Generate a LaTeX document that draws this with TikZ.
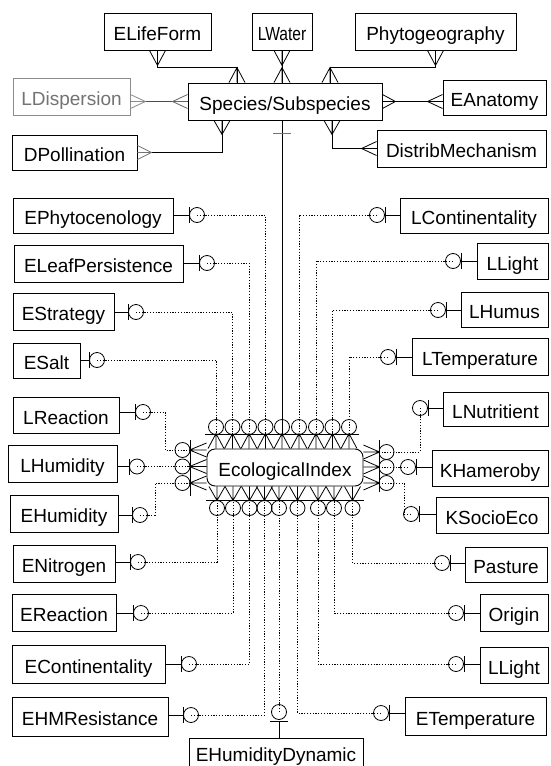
\documentclass[tikz,border=0pt]{standalone}
\usepackage{fontspec}
\setmainfont{Liberation Sans}
\usetikzlibrary{calc}
\tikzset{
  ent/.style={draw, line width=0.9pt, inner sep=0pt, text height=18.6pt, text depth=0pt,
    font=\fontsize{19}{22}\selectfont},
  ring/.style={circle, draw, line width=0.8pt, minimum size=15pt, inner sep=0pt},
  rel/.style={line width=0.8pt},
  opt/.style={line width=0.9pt, dash pattern=on 1.2pt off 1.6pt},
  faint/.style={draw=black!45, text=black!55},
}
% entity box: name, x1, x2, y1, y2, label
\newcommand\ent[7][]{\node[ent,#1, minimum width={#4-#3}, minimum height={#6-#5}] (#2) at ({(#3+#4)/2},{(#5+#6)/2}) {#7};}
% crow's foot: point on the edge, apex offset, prong offset
\newcommand\foot[4][]{\draw[rel,#1] ($(#2)+(#4)$) -- ($(#2)+(#3)$) -- ($(#2)-(#4)$) ($(#2)+(#3)$) -- (#2);}
% optional end with bar, ring on the east side of a box
\newcommand\ringE[3]{%
  \node[ring] (#1-o) at (#2,#3) {};
  \draw[rel] (#1.east |- #1-o.center) -- ([xshift=-8pt]#1-o.center)
    ([xshift=-8pt,yshift=8pt]#1-o.center) -- ([xshift=-8pt,yshift=-8pt]#1-o.center);}
% optional end with bar, ring on the west side of a box
\newcommand\ringW[3]{%
  \node[ring] (#1-o) at (#2,#3) {};
  \draw[rel] (#1.west |- #1-o.center) -- ([xshift=8pt]#1-o.center)
    ([xshift=8pt,yshift=8pt]#1-o.center) -- ([xshift=8pt,yshift=-8pt]#1-o.center);}
% many-ends around the index box
\newcommand\topcol[2]{\node[ring] (#1) at (#2,427) {}; \coordinate (#1-b) at (#2,434); \foot{ecol.north -| #1-b}{0,-15}{8,0}}
\newcommand\botcol[2]{\node[ring] (#1) at (#2,508) {}; \coordinate (#1-b) at (#2,500); \foot{ecol.south -| #1-b}{0,14}{8,0}}
\newcommand\leftrow[2]{\node[ring] (#1) at (182.5,#2) {}; \coordinate (#1-b) at (190,#2); \foot{ecol.west |- #1-b}{-17,0}{0,7}}
\newcommand\rightrow[2]{\node[ring] (#1) at (386.5,#2) {}; \coordinate (#1-b) at (379,#2); \foot{ecol.east |- #1-b}{16,0}{0,7}}

\begin{document}
\begin{tikzpicture}[x=1pt,y=-1pt]
\fill[white] (0,0) rectangle (550,766);
\useasboundingbox (0,0) rectangle (550,766);

% ---- species block ----
\ent{spec}{188}{382}{83}{120}{Species/Subspecies}
\ent{elf}{104}{211}{13}{50}{ELifeForm}
\ent{lwat}{252}{312}{13}{50}{\scalebox{0.82}[1]{LWater}}
\ent{phy}{355}{516}{13}{50}{Phytogeography}
\ent[faint]{ldis}{13}{130}{78}{115}{LDispersion}
\ent{dpol}{12}{137}{135}{170}{DPollination}
\ent{eana}{443}{546}{80}{115}{EAnatomy}
\ent{dm}{377}{546}{130}{167}{DistribMechanism}

\coordinate (sp-lf) at ([xshift=-48pt]spec.north);
\coordinate (sp-lw) at ([xshift=-3pt]spec.north);
\coordinate (sp-ph) at ([xshift=45pt]spec.north);
\coordinate (sp-dp) at ([xshift=-63pt]spec.south);
\coordinate (sp-dm) at ([xshift=47pt]spec.south);
\coordinate (sp-ei) at ([xshift=-3pt]spec.south);

\draw[rel] (elf.south) -- ++(0,17) -| (sp-lf);
\foot{elf.south}{0,15}{8,0}
\foot{sp-lf}{0,-15}{8,0}
\draw[rel] (lwat.south) -- (sp-lw);
\foot{lwat.south}{0,15}{8,0}
\foot{sp-lw}{0,-15}{8,0}
\draw[rel] (phy.south) -- ++(0,17) -| (sp-ph);
\foot{phy.south}{0,15}{8,0}
\foot{sp-ph}{0,-15}{8,0}

\draw[rel, black!70] (ldis.east |- spec.west) -- (spec.west);
\foot[black!45]{ldis.east |- spec.west}{15,0}{0,7}
\foot[black!60]{spec.west}{-15,0}{0,7}
\draw[rel] (spec.east) -- (eana.west |- spec.east);
\foot{spec.east}{13,0}{0,7}
\foot{eana.west |- spec.east}{-15,0}{0,7}

\draw[rel] (dpol.east) -| (sp-dp);
\foot[black!55]{dpol.east}{14,0}{0,7}
\foot{sp-dp}{0,14}{8,0}
\draw[rel] (dm.west) -| (sp-dm);
\foot{dm.west}{-15,0}{0,7}
\foot{sp-dm}{0,14}{8,0}

% ---- index block ----
\node[ent, rounded corners=8pt, minimum width=156, minimum height=37] (ecol) at (285,467.5) {EcologicalIndex};

\topcol{t1}{216}   \topcol{t2}{232.5} \topcol{t3}{249}   \topcol{t4}{265.5} \topcol{t5}{282}
\topcol{t6}{299}   \topcol{t7}{316}   \topcol{t8}{332.5} \topcol{t9}{349}
\botcol{b1}{217}   \botcol{b2}{233}   \botcol{b3}{249.5} \botcol{b4}{264.5} \botcol{b5}{279}
\botcol{b6}{297.5} \botcol{b7}{318}   \botcol{b8}{334}   \botcol{b9}{352.5}
\leftrow{l1}{450}  \leftrow{l2}{466.5} \leftrow{l3}{483}
\rightrow{r1}{452} \rightrow{r2}{467}  \rightrow{r3}{483}

\draw[rel] ([xshift=-11pt]t1-b) -- ([xshift=10pt]t9-b);
\draw[rel] ([xshift=-11pt]b1-b) -- ([xshift=11pt]b9-b);
\draw[rel] ([yshift=10pt]l1-b) -- ([yshift=-13pt]l3-b);
\draw[rel] ([yshift=12pt]r1-b) -- ([yshift=-9pt]r3-b);

% species to index
\draw[rel] (sp-ei) -- (t5-b);
\draw[rel, black!55] ([xshift=-9pt,yshift=-13pt]sp-ei) -- ([xshift=9pt,yshift=-13pt]sp-ei);

% ---- left attributes ----
\ent{ephy}{13}{173}{198}{233}{EPhytocenology}
\ent{elea}{14}{183}{245}{282}{ELeafPersistence}
\ent{estr}{13}{114}{293}{330}{EStrategy}
\ent{esal}{13}{80}{343}{378}{ESalt}
\ent{lrea}{13}{119}{397}{433}{LReaction}
\ent{lhum}{8}{117}{445}{482}{LHumidity}
\ent{ehum}{10}{118}{495}{532}{EHumidity}
\ent{enit}{13}{115}{545}{582}{ENitrogen}
\ent{erea}{12}{116}{594}{631}{EReaction}
\ent{econ}{12}{165}{645}{683}{EContinentality}
\ent{ehmr}{12}{168}{697}{736}{EHMResistance}
\ent[text height=13.6pt]{ehd}{189}{363}{738}{772}{EHumidityDynamic}

\ringE{ephy}{197}{215}
\ringE{elea}{207}{263}
\ringE{estr}{136}{312}
\ringE{esal}{97}{360}
\ringE{lrea}{143}{412}
\ringE{lhum}{137}{466.5}
\ringE{ehum}{140}{515}
\ringE{enit}{138}{562}
\ringE{erea}{141}{613}
\ringE{econ}{189}{664}
\ringE{ehmr}{191}{715}
\node[ring] (ehd-o) at (279,712) {};
\draw[rel] ([yshift=-9pt]ehd-o.center) -- (ehd.north -| ehd-o.center)
  ([xshift=-9pt,yshift=-9pt]ehd-o.center) -- ([xshift=9pt,yshift=-9pt]ehd-o.center);

\draw[opt] (ephy-o.center) -| (t4-b);
\draw[opt] (elea-o.center) -| (t3-b);
\draw[opt] (estr-o.center) -| (t2-b);
\draw[opt] (esal-o.center) -| (t1-b);
\draw[opt] (lrea-o.center) -| ([xshift=-25pt]l1-b) -- (l1-b);
\draw[opt] (lhum-o.center) -- (l2-b);
\draw[opt] (ehum-o.center) -| ([xshift=-35pt]l3-b) -- (l3-b);
\draw[opt] (enit-o.center) -| (b1-b);
\draw[opt] (erea-o.center) -| (b2-b);
\draw[opt] (econ-o.center) -| (b3-b);
\draw[opt] (ehmr-o.center) -| (b4-b);
\draw[opt] (ehd-o.center) -- (b5-b);

% ---- right attributes ----
\ent{lcon}{400}{548}{198}{233}{LContinentality}
\ent{llig}{477}{548}{243}{279}{LLight}
\ent{lhus}{461}{548}{292}{327}{LHumus}
\ent{ltem}{412}{548}{338}{375}{LTemperature}
\ent{lnut}{443}{548}{392}{426}{LNutritient}
\ent{kham}{432}{548}{450}{486}{KHameroby}
\ent{ksoc}{436}{548}{497}{533}{KSocioEco}
\ent{past}{465}{547}{547}{582}{Pasture}
\ent{orig}{480}{548}{594}{631}{Origin}
\ent{lligb}{480}{548}{647}{683}{LLight}
\ent{etem}{405}{546}{697}{735}{ETemperature}

\ringW{lcon}{377}{215}
\ringW{llig}{453}{261}
\ringW{lhus}{438}{310}
\ringW{ltem}{388}{357}
\ringW{lnut}{420}{408}
\ringW{kham}{408}{467}
\ringW{ksoc}{411}{514}
\ringW{past}{442}{563}
\ringW{orig}{456}{613}
\ringW{lligb}{456}{664}
\ringW{etem}{381}{713}

\draw[opt] (lcon-o.center) -| (t6-b);
\draw[opt] (llig-o.center) -| (t7-b);
\draw[opt] (lhus-o.center) -| (t8-b);
\draw[opt] (ltem-o.center) -| (t9-b);
\draw[opt] (lnut-o.center) |- (r1-b);
\draw[opt] (kham-o.center) -- (r2-b);
\draw[opt] (ksoc-o.center) -- ++(-7,0) |- (r3-b);
\draw[opt] (past-o.center) -| (b9-b);
\draw[opt] (orig-o.center) -| (b8-b);
\draw[opt] (lligb-o.center) -| (b7-b);
\draw[opt] (etem-o.center) -| (b6-b);
\end{tikzpicture}
\end{document}
